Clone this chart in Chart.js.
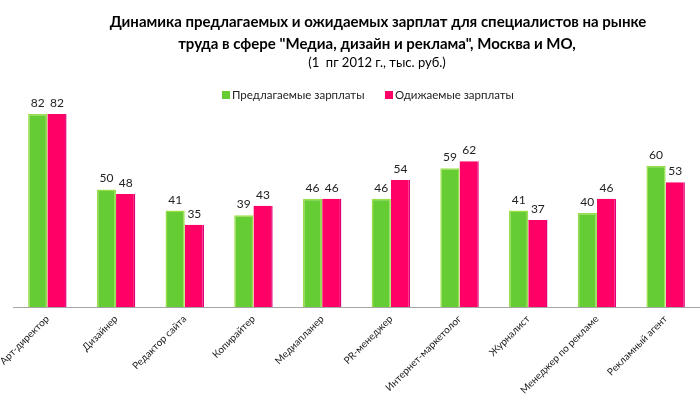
<!DOCTYPE html>
<html>
<head>
<meta charset="utf-8">
<script src="https://cdn.jsdelivr.net/npm/chart.js@4/dist/chart.umd.min.js"></script>
<style>
html,body{margin:0;padding:0;background:#fff;}
#wrap{position:relative;width:700px;height:394px;}
</style>
</head>
<body>
<div id="wrap"><canvas id="c" width="700" height="394"></canvas></div>
<script>
const categories = ["Арт-директор","Дизайнер","Редактор сайта","Копирайтер","Медиапланер","PR-менеджер","Интернет-маркетолог","Журналист","Менеджер по рекламе","Рекламный агент"];
const offered = [82,50,41,39,46,46,59,41,40,60];
const expected = [82,48,35,43,46,54,62,37,46,53];
const seriesNames = ["Предлагаемые зарплаты","Одижаемые зарплаты"];
const titleLines = ["Динамика предлагаемых и ожидаемых зарплат для специалистов на рынке","труда в сфере \"Медиа, дизайн и реклама\", Москва и МО,"];
const subtitleText = "(1  пг 2012 г., тыс. руб.)";

const FONT = "Lato, 'Open Sans', sans-serif";
const GREEN = "#66CC33", PINK = "#FF0066";

const titlePlugin = {
  id: 'titleLegend',
  afterDraw(chart) {
    const ctx = chart.ctx;
    ctx.save();
    ctx.fillStyle = "#000";
    ctx.textAlign = "center";
    ctx.textBaseline = "middle";
    ctx.font = "bold 15px " + FONT;
    ctx.fillText(titleLines[0], 378, 22);
    ctx.fillText(titleLines[1], 377, 44);
    ctx.font = "13px " + FONT;
    ctx.fillText(subtitleText, 377, 63);
    // legend
    ctx.font = "11.5px " + FONT;
    ctx.textAlign = "left";
    const items = [[222, GREEN, seriesNames[0]], [385, PINK, seriesNames[1]]];
    items.forEach(([x, col, t]) => {
      ctx.fillStyle = col;
      ctx.fillRect(x, 91, 8, 8);
      ctx.fillStyle = "#222";
      ctx.fillText(t, x + 10, 95.5);
    });
    // value labels
    ctx.textAlign = "center";
    ctx.textBaseline = "alphabetic";
    ctx.font = "12px " + FONT;
    ctx.fillStyle = "#222";
    chart.data.datasets.forEach((ds, di) => {
      const meta = chart.getDatasetMeta(di);
      meta.data.forEach((bar, i) => {
        ctx.fillText(String(ds.data[i]), bar.x, bar.y - 7);
      });
    });
    ctx.restore();
  }
};

new Chart(document.getElementById('c'), {
  type: 'bar',
  data: {
    labels: categories,
    datasets: [
      { label: seriesNames[0], data: offered, backgroundColor: GREEN, borderColor: "#9ADF4A", borderWidth: 1.5 },
      { label: seriesNames[1], data: expected, backgroundColor: PINK, borderColor: "#E0007A", borderWidth: {left:0, right:1.5, top:0, bottom:0} }
    ]
  },
  options: {
    responsive: false,
    animation: false,
    layout: { padding: { top: 100, left: 13, right: 0, bottom: 0 } },
    plugins: { legend: { display: false }, title: { display: false }, tooltip: { enabled: false } },
    datasets: { bar: { categoryPercentage: 0.56, barPercentage: 1.0 } },
    scales: {
      y: { display: false, min: 0, max: 88 },
      x: {
        afterFit(scale) { scale.height = 87; scale.paddingLeft = 0; scale.paddingRight = 0; },
        grid: { display: false, drawTicks: false },
        border: { display: true, color: "#A6A6A6", width: 1 },
        ticks: { minRotation: 45, maxRotation: 45, padding: 6, color: "#222", font: { family: FONT, size: 10 } }
      }
    }
  },
  plugins: [titlePlugin]
});
</script>
</body>
</html>
